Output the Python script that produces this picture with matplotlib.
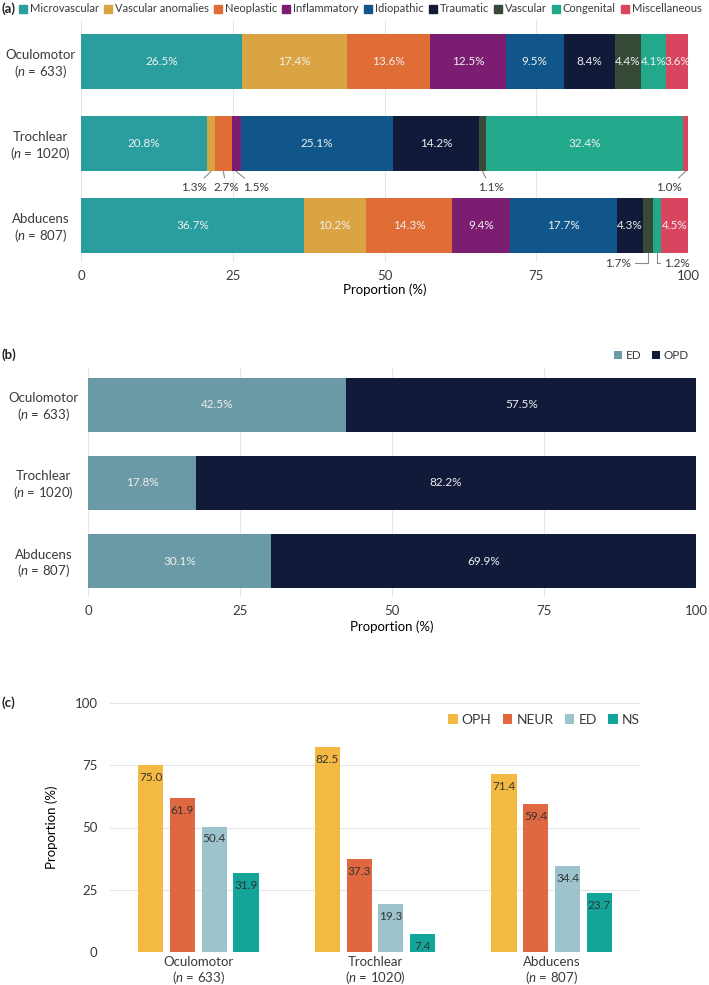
import matplotlib
matplotlib.use('Agg')
import matplotlib.pyplot as plt
from matplotlib.patches import Patch
import numpy as np

plt.rcParams['font.family'] = ['Lato', 'DejaVu Sans']
plt.rcParams['mathtext.fontset'] = 'custom'
plt.rcParams['mathtext.it'] = 'Lato:italic'
plt.rcParams['mathtext.rm'] = 'Lato'
plt.rcParams['text.color'] = '#3a3a3a'
plt.rcParams['xtick.color'] = '#3a3a3a'
plt.rcParams['ytick.color'] = '#3a3a3a'

#Data
nerves = ['Oculomotor', 'Trochlear', 'Abducens']
n_counts = [633, 1020, 807]

causes = ['Microvascular', 'Vascular anomalies', 'Neoplastic', 'Inflammatory', 'Idiopathic',
          'Traumatic', 'Vascular', 'Congenital', 'Miscellaneous']
cause_oculomotor = [26.5, 17.4, 13.6, 12.5, 9.5, 8.4, 4.4, 4.1, 3.6]
cause_trochlear = [20.8, 1.3, 2.7, 1.5, 25.1, 14.2, 1.1, 32.4, 1.0]
cause_abducens = [36.7, 10.2, 14.3, 9.4, 17.7, 4.3, 1.7, 1.2, 4.5]
cause_colors = ['#2a9d9f', '#d9a441', '#e06c36', '#7b1e72', '#10568a',
                '#121a3a', '#374937', '#22a98c', '#d9445f']

settings = ['ED', 'OPD']
ed_share = [42.5, 17.8, 30.1]
opd_share = [57.5, 82.2, 69.9]
setting_colors = ['#6a9aa5', '#121a3a']

specialties = ['OPH', 'NEUR', 'ED', 'NS']
oph_seen = [75.0, 82.5, 71.4]
neur_seen = [61.9, 37.3, 59.4]
ed_seen = [50.4, 19.3, 34.4]
ns_seen = [31.9, 7.4, 23.7]
spec_colors = ['#f4b942', '#e06840', '#9dc3cc', '#13a59a']

ticks = [0, 25, 50, 75, 100]
nerve_labels = [f'{n}\n($n$ = {c})' for n, c in zip(nerves, n_counts)]

W, H = 709, 985
fig = plt.figure(figsize=(W / 100, H / 100), dpi=100)

def px_axes(left, top, right, bottom):
    return fig.add_axes([left / W, 1 - bottom / H, (right - left) / W, (bottom - top) / H])

def clean(ax):
    for s in ax.spines.values():
        s.set_visible(False)
    ax.tick_params(length=0, labelsize=9.5)
    ax.set_axisbelow(True)

def center_ylabels(ax, pad):
    for lab in ax.get_yticklabels():
        lab.set_ha('center')
        lab.set_multialignment('center')
        lab.set_linespacing(1.15)
    ax.tick_params(axis='y', pad=pad)

#(a) causes
ax = px_axes(81, 20, 688, 262)
clean(ax)
ypos = np.arange(len(nerves))
rows = [cause_oculomotor, cause_trochlear, cause_abducens]
left = np.zeros(len(nerves))
for k, cause in enumerate(causes):
    vals = np.array([r[k] for r in rows])
    ax.barh(ypos, vals, left=left, height=0.67, color=cause_colors[k], label=cause)
    for i, v in enumerate(vals):
        if v >= 3:
            ax.text(left[i] + v / 2, ypos[i], f'{v:.1f}%', ha='center', va='center',
                    color='#f0f0f0', fontsize=8.5)
    left += vals

# outside labels for small segments (row, cause index, offset px, connection)
small_labels = [(1, 1, (-17, -16), 'arc3'), (1, 2, (3, -16), 'arc3'), (1, 3, (20, -16), 'arc3'),
                (1, 6, (8, -16), 'arc3'), (1, 8, (-17, -16), 'arc3'),
                (2, 6, (-30, -10), 'angle,angleA=0,angleB=90,rad=0'),
                (2, 7, (20, -10), 'angle,angleA=0,angleB=90,rad=0')]
for r, k, off, conn in small_labels:
    v = rows[r][k]
    cx = sum(rows[r][:k]) + v / 2
    ax.annotate(f'{v:.1f}%', xy=(cx, ypos[r] + 0.335), xytext=(off[0] * 0.72, off[1] * 0.72),
                textcoords='offset points', ha='center', va='center', fontsize=8.5,
                arrowprops=dict(arrowstyle='-', color='#8a8a8a', lw=0.8,
                                connectionstyle=conn, shrinkA=1, shrinkB=0))

ax.set_ylim(2.44, -0.51)
ax.set_xlim(0, 100)
ax.set_xticks(ticks)
ax.xaxis.grid(True, color='#e6e6e6', lw=0.8)
ax.set_yticks(ypos)
ax.set_yticklabels(nerve_labels)
center_ylabels(ax, 29)
ax.tick_params(axis='x', pad=6)
ax.set_xlabel('Proportion (%)', fontsize=9.5, labelpad=1)

fig.text(2 / W, 1 - 9 / H, '(a)', fontsize=9.5, fontweight='bold', va='center', color='#222')
handles = [Patch(color=c) for c in cause_colors]
fig.legend(handles, causes, loc='center left', bbox_to_anchor=(19 / W, 1 - 9 / H), ncol=9,
           frameon=False, fontsize=8.0, handlelength=0.7, handleheight=0.7,
           handletextpad=0.25, columnspacing=0.5, borderpad=0, borderaxespad=0)

#(b) setting
ax = px_axes(88, 368, 696, 597)
clean(ax)
ax.barh(ypos, ed_share, height=0.69, color=setting_colors[0], label=settings[0])
ax.barh(ypos, opd_share, left=ed_share, height=0.69, color=setting_colors[1], label=settings[1])
for i in range(len(nerves)):
    ax.text(ed_share[i] / 2, ypos[i], f'{ed_share[i]:.1f}%', ha='center', va='center',
            color='#eeeeee', fontsize=8.5)
    ax.text(ed_share[i] + opd_share[i] / 2, ypos[i], f'{opd_share[i]:.1f}%', ha='center',
            va='center', color='#eeeeee', fontsize=8.5)
ax.set_ylim(2.46, -0.47)
ax.set_xlim(0, 100)
ax.set_xticks(ticks)
ax.xaxis.grid(True, color='#e6e6e6', lw=0.8)
ax.set_yticks(ypos)
ax.set_yticklabels(nerve_labels)
center_ylabels(ax, 32)
ax.tick_params(axis='x', pad=6)
ax.set_xlabel('Proportion (%)', fontsize=9.5, labelpad=2)
fig.text(2 / W, 1 - 355 / H, '(b)', fontsize=9.5, fontweight='bold', va='center', color='#222')
ax.legend(loc='lower right', bbox_to_anchor=(1.0, 1.0), ncol=2, frameon=False, fontsize=8.5,
          handlelength=0.7, handleheight=0.7, handletextpad=0.3, columnspacing=0.9,
          borderpad=0, borderaxespad=0.6)

#(c) specialty
ax = px_axes(110, 703, 640, 952)
clean(ax)
groups = [oph_seen, neur_seen, ed_seen, ns_seen]
xpos = np.arange(len(nerves))
pitch = 0.18
for k, vals in enumerate(groups):
    xs = xpos + (k - 1.5) * pitch
    ax.bar(xs, vals, width=0.142, color=spec_colors[k], label=specialties[k])
    for x, v in zip(xs, vals):
        ax.annotate(f'{v:.1f}', xy=(x, v), xytext=(0, -5), textcoords='offset points',
                    ha='center', va='top', fontsize=8.5, color='#333333')
ax.set_xlim(-0.5, 2.5)
ax.set_ylim(0, 100)
ax.set_yticks(ticks)
ax.yaxis.grid(True, color='#e6e6e6', lw=0.8)
ax.set_xticks(xpos)
ax.set_xticklabels(nerve_labels)
for lab in ax.get_xticklabels():
    lab.set_linespacing(1.05)
ax.tick_params(axis='x', pad=3)
ax.tick_params(axis='y', pad=9)
ax.set_ylabel('Proportion (%)', fontsize=9.5, labelpad=12)
fig.text(2 / W, 1 - 703 / H, '(c)', fontsize=9.5, fontweight='bold', va='center', color='#222')
ax.legend(loc='upper right', bbox_to_anchor=(1.0, 0.955), ncol=4, frameon=False, fontsize=10,
          handlelength=0.7, handleheight=0.7, handletextpad=0.3, columnspacing=0.8,
          borderpad=0, borderaxespad=0)

fig.savefig('out.png', dpi=100)
